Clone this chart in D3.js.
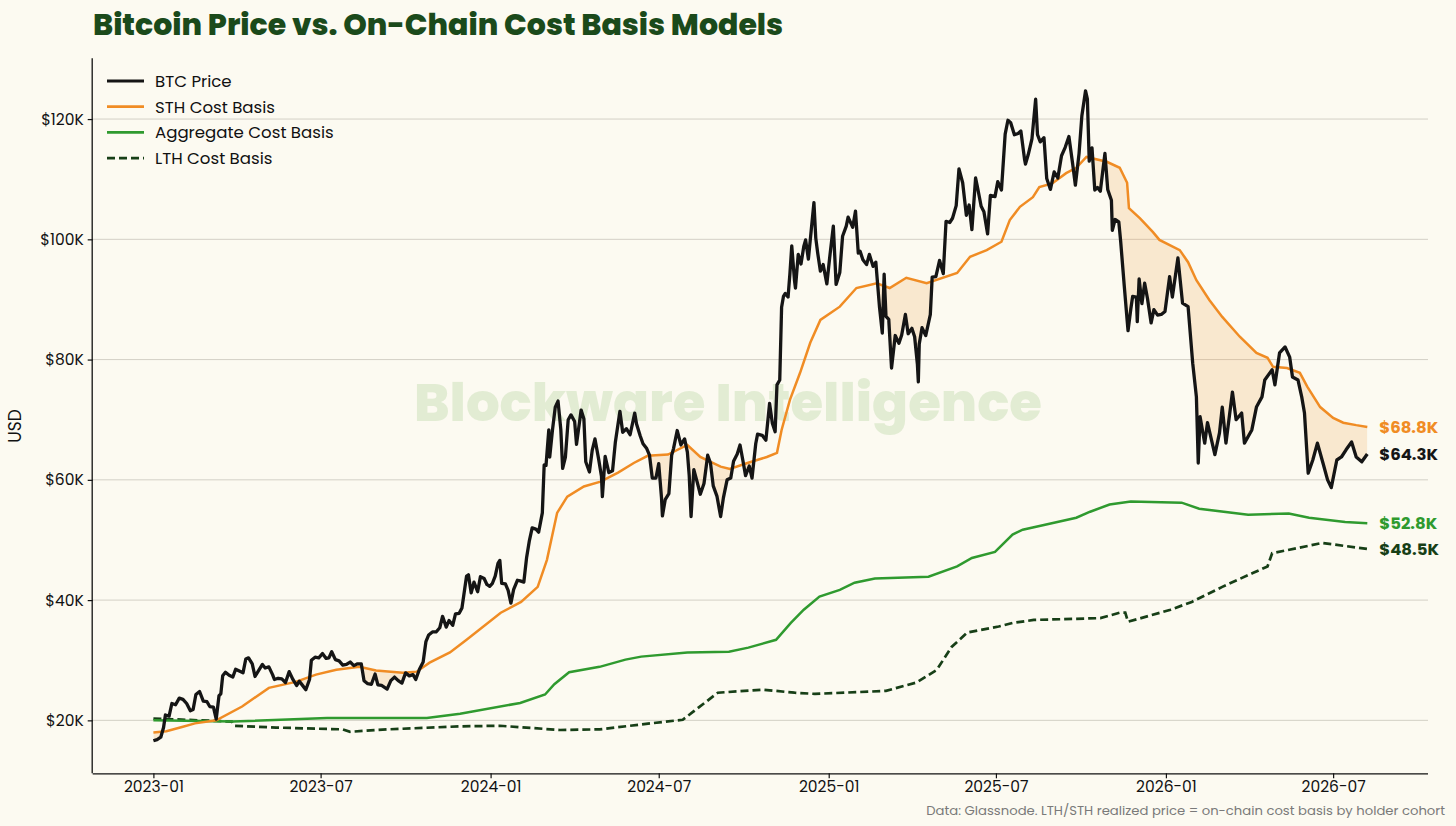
<!DOCTYPE html>
<html>
<head>
<meta charset="utf-8">
<script src="https://cdn.jsdelivr.net/npm/d3@7"></script>
<style>
  html, body { margin: 0; padding: 0; background: #fcfaf1; }
  svg { display: block; font-family: Poppins, Inter, "Noto Sans", sans-serif; }
</style>
</head>
<body>
<svg id="chart" width="1456" height="826"></svg>
<script>
// BTC spot price, $K
const btcPrice = [
  ["2023-01-01",16.6],["2023-01-05",16.8],["2023-01-09",17.2],["2023-01-12",18.8],["2023-01-14",20.9],["2023-01-18",20.7],
  ["2023-01-21",22.8],["2023-01-25",22.6],["2023-01-29",23.7],["2023-02-02",23.5],["2023-02-06",22.8],["2023-02-10",21.6],
  ["2023-02-13",21.8],["2023-02-16",24.3],["2023-02-20",24.8],["2023-02-24",23.2],["2023-02-28",23.1],["2023-03-03",22.3],
  ["2023-03-07",22.2],["2023-03-10",20.2],["2023-03-13",24.1],["2023-03-15",24.4],["2023-03-17",27.4],["2023-03-20",28.0],
  ["2023-03-24",27.5],["2023-03-28",27.2],["2023-03-31",28.5],["2023-04-04",28.2],["2023-04-08",27.9],["2023-04-11",30.2],
  ["2023-04-14",30.4],["2023-04-18",29.4],["2023-04-21",27.3],["2023-04-25",28.3],["2023-04-29",29.3],["2023-05-02",28.7],
  ["2023-05-06",28.9],["2023-05-10",27.6],["2023-05-12",26.8],["2023-05-16",27.0],["2023-05-20",26.9],["2023-05-24",26.3],
  ["2023-05-28",28.1],["2023-06-01",26.8],["2023-06-05",25.8],["2023-06-08",26.5],["2023-06-11",25.9],["2023-06-15",25.1],
  ["2023-06-19",26.8],["2023-06-21",30.0],["2023-06-25",30.5],["2023-06-29",30.4],["2023-07-03",31.1],["2023-07-07",30.3],
  ["2023-07-10",30.4],["2023-07-13",31.4],["2023-07-17",30.1],["2023-07-21",29.9],["2023-07-25",29.2],["2023-07-29",29.3],
  ["2023-08-02",29.7],["2023-08-06",29.1],["2023-08-10",29.4],["2023-08-14",29.4],["2023-08-17",26.6],["2023-08-21",26.1],
  ["2023-08-25",26.0],["2023-08-29",27.7],["2023-09-01",25.9],["2023-09-05",25.8],["2023-09-11",25.2],["2023-09-15",26.6],
  ["2023-09-19",27.2],["2023-09-23",26.6],["2023-09-27",26.2],["2023-10-01",27.9],["2023-10-05",27.4],["2023-10-09",27.6],
  ["2023-10-12",26.8],["2023-10-16",28.5],["2023-10-20",29.7],["2023-10-23",33.1],["2023-10-26",34.2],["2023-10-30",34.7],
  ["2023-11-03",34.7],["2023-11-07",35.4],["2023-11-10",37.3],["2023-11-14",35.5],["2023-11-17",36.6],["2023-11-21",35.8],
  ["2023-11-24",37.7],["2023-11-28",37.8],["2023-12-01",38.7],["2023-12-04",41.9],["2023-12-06",44.0],["2023-12-08",44.2],
  ["2023-12-11",41.2],["2023-12-14",43.0],["2023-12-18",41.4],["2023-12-21",43.9],["2023-12-25",43.6],["2023-12-28",42.6],
  ["2023-12-31",42.3],["2024-01-03",42.8],["2024-01-06",44.0],["2024-01-09",46.1],["2024-01-11",46.6],["2024-01-13",42.8],
  ["2024-01-17",42.7],["2024-01-20",41.6],["2024-01-23",39.5],["2024-01-26",41.8],["2024-01-30",43.3],["2024-02-02",43.2],
  ["2024-02-06",43.0],["2024-02-09",47.1],["2024-02-12",49.9],["2024-02-15",52.0],["2024-02-19",51.8],["2024-02-22",51.3],
  ["2024-02-26",54.5],["2024-02-28",62.5],["2024-03-01",62.4],["2024-03-04",68.3],["2024-03-05",63.8],["2024-03-08",68.3],
  ["2024-03-11",72.1],["2024-03-14",73.1],["2024-03-17",68.4],["2024-03-19",61.9],["2024-03-22",63.8],["2024-03-25",70.0],
  ["2024-03-28",70.8],["2024-04-01",69.7],["2024-04-03",65.9],["2024-04-08",71.6],["2024-04-11",70.1],["2024-04-13",63.0],
  ["2024-04-17",61.3],["2024-04-20",64.9],["2024-04-23",66.8],["2024-04-27",63.4],["2024-04-30",60.6],["2024-05-01",57.2],
  ["2024-05-04",63.9],["2024-05-08",61.2],["2024-05-12",61.5],["2024-05-15",66.2],["2024-05-20",71.4],["2024-05-23",67.9],
  ["2024-05-27",68.5],["2024-05-31",67.5],["2024-06-05",71.1],["2024-06-07",69.3],["2024-06-11",67.3],["2024-06-14",66.0],
  ["2024-06-18",65.2],["2024-06-21",64.1],["2024-06-24",60.3],["2024-06-28",60.3],["2024-07-01",62.7],["2024-07-04",57.0],
  ["2024-07-05",54.0],["2024-07-08",56.7],["2024-07-12",57.7],["2024-07-15",64.1],["2024-07-17",65.2],["2024-07-21",68.2],
  ["2024-07-25",65.8],["2024-07-29",66.8],["2024-08-01",64.6],["2024-08-03",60.7],["2024-08-05",53.9],["2024-08-08",61.7],
  ["2024-08-12",59.4],["2024-08-15",57.6],["2024-08-19",59.4],["2024-08-23",64.1],["2024-08-26",62.8],["2024-08-29",59.0],
  ["2024-09-02",57.3],["2024-09-06",53.9],["2024-09-09",57.0],["2024-09-13",60.0],["2024-09-17",60.3],["2024-09-20",63.1],
  ["2024-09-24",64.3],["2024-09-27",65.8],["2024-09-30",63.3],["2024-10-03",60.7],["2024-10-07",62.3],["2024-10-10",60.3],
  ["2024-10-14",66.0],["2024-10-16",67.6],["2024-10-21",67.4],["2024-10-25",66.6],["2024-10-29",72.7],["2024-11-01",69.4],
  ["2024-11-04",68.0],["2024-11-06",75.8],["2024-11-09",76.6],["2024-11-11",88.7],["2024-11-13",90.5],["2024-11-15",91.0],
  ["2024-11-18",90.4],["2024-11-20",94.3],["2024-11-22",98.9],["2024-11-25",93.1],["2024-11-26",91.9],["2024-11-29",97.5],
  ["2024-12-02",95.9],["2024-12-05",98.8],["2024-12-07",99.9],["2024-12-10",96.7],["2024-12-13",101.4],["2024-12-16",106.1],
  ["2024-12-18",100.2],["2024-12-20",97.8],["2024-12-23",94.7],["2024-12-26",95.8],["2024-12-30",92.6],["2025-01-02",96.9],
  ["2025-01-06",102.2],["2025-01-09",92.5],["2025-01-13",94.5],["2025-01-16",100.5],["2025-01-20",102.2],["2025-01-22",103.7],
  ["2025-01-27",102.0],["2025-01-30",104.7],["2025-02-02",97.7],["2025-02-04",98.0],["2025-02-07",96.6],["2025-02-11",95.8],
  ["2025-02-14",97.5],["2025-02-18",95.5],["2025-02-21",96.2],["2025-02-25",88.7],["2025-02-28",84.4],["2025-03-02",94.2],
  ["2025-03-04",87.2],["2025-03-07",86.7],["2025-03-10",78.6],["2025-03-14",84.0],["2025-03-18",82.7],["2025-03-21",84.1],
  ["2025-03-25",87.5],["2025-03-28",84.3],["2025-04-01",85.2],["2025-04-04",83.8],["2025-04-07",79.2],["2025-04-08",76.3],
  ["2025-04-09",82.6],["2025-04-12",85.3],["2025-04-16",84.0],["2025-04-21",87.5],["2025-04-23",93.7],["2025-04-27",93.8],
  ["2025-05-01",96.5],["2025-05-05",94.3],["2025-05-08",103.0],["2025-05-12",102.8],["2025-05-15",103.5],["2025-05-19",105.6],
  ["2025-05-22",111.7],["2025-05-26",109.4],["2025-05-30",104.0],["2025-06-02",105.7],["2025-06-05",101.6],["2025-06-09",110.2],
  ["2025-06-11",108.7],["2025-06-15",105.5],["2025-06-18",104.6],["2025-06-22",100.9],["2025-06-25",107.3],["2025-06-30",107.1],
  ["2025-07-03",109.6],["2025-07-07",108.2],["2025-07-11",117.5],["2025-07-14",119.8],["2025-07-17",119.4],["2025-07-21",117.4],
  ["2025-07-25",117.6],["2025-07-28",118.0],["2025-08-01",113.3],["2025-08-02",112.5],["2025-08-05",114.1],["2025-08-09",116.7],
  ["2025-08-13",123.3],["2025-08-15",117.4],["2025-08-18",116.2],["2025-08-22",116.9],["2025-08-25",110.1],["2025-08-29",108.3],
  ["2025-09-02",111.2],["2025-09-06",110.2],["2025-09-10",113.9],["2025-09-14",115.3],["2025-09-18",117.1],["2025-09-22",112.6],
  ["2025-09-25",109.0],["2025-09-29",114.3],["2025-10-02",120.5],["2025-10-06",124.7],["2025-10-08",123.3],["2025-10-10",113.0],
  ["2025-10-13",115.2],["2025-10-16",108.2],["2025-10-19",108.6],["2025-10-22",108.0],["2025-10-27",114.3],["2025-10-30",108.3],
  ["2025-11-03",106.5],["2025-11-04",101.5],["2025-11-07",103.3],["2025-11-11",102.9],["2025-11-13",99.7],["2025-11-17",92.1],
  ["2025-11-20",86.6],["2025-11-21",84.8],["2025-11-24",88.4],["2025-11-26",90.5],["2025-11-30",90.4],["2025-12-01",86.3],
  ["2025-12-03",93.4],["2025-12-06",89.3],["2025-12-09",92.7],["2025-12-12",90.2],["2025-12-16",86.1],["2025-12-19",88.3],
  ["2025-12-23",87.4],["2025-12-27",87.5],["2025-12-31",88.0],["2026-01-05",93.8],["2026-01-08",90.4],["2026-01-14",96.9],
  ["2026-01-19",89.4],["2026-01-25",88.8],["2026-01-30",79.4],["2026-02-03",73.8],["2026-02-05",62.8],["2026-02-07",70.5],
  ["2026-02-12",66.1],["2026-02-15",69.5],["2026-02-23",64.2],["2026-02-28",67.8],["2026-03-03",72.1],["2026-03-07",66.1],
  ["2026-03-14",74.6],["2026-03-18",70.0],["2026-03-24",71.1],["2026-03-27",66.1],["2026-04-04",68.3],["2026-04-09",72.1],
  ["2026-04-15",73.8],["2026-04-18",76.6],["2026-04-26",78.3],["2026-04-29",75.8],["2026-05-04",81.1],["2026-05-10",82.1],
  ["2026-05-15",80.4],["2026-05-18",77.1],["2026-05-24",76.6],["2026-05-28",73.8],["2026-05-31",71.1],["2026-06-04",61.1],
  ["2026-06-09",63.3],["2026-06-14",66.1],["2026-06-20",62.8],["2026-06-25",60.0],["2026-06-29",58.7],["2026-07-05",63.3],
  ["2026-07-10",63.8],["2026-07-15",65.0],["2026-07-21",66.3],["2026-07-26",63.8],["2026-08-01",63.0],["2026-08-07",64.3]
];

// short-term holder realized price, $K
const sthCostBasis = [
  ["2023-01-01",18.0],["2023-01-15",18.2],["2023-02-01",18.9],["2023-02-15",19.5],["2023-03-10",20.0],["2023-04-07",22.3],
  ["2023-05-06",25.4],["2023-06-04",26.4],["2023-06-26",27.6],["2023-07-18",28.4],["2023-08-12",28.9],["2023-08-30",28.3],
  ["2023-09-28",27.9],["2023-10-13",28.1],["2023-10-27",29.6],["2023-11-18",31.3],["2023-12-06",33.4],["2024-01-12",37.9],
  ["2024-02-03",39.7],["2024-02-21",42.2],["2024-03-02",46.7],["2024-03-13",54.5],["2024-03-24",57.2],["2024-04-11",58.9],
  ["2024-04-29",59.7],["2024-05-18",61.2],["2024-06-04",62.8],["2024-06-19",64.0],["2024-07-11",64.2],["2024-08-01",65.8],
  ["2024-08-15",63.8],["2024-09-06",62.2],["2024-09-16",61.8],["2024-10-05",62.8],["2024-10-26",63.8],["2024-11-06",64.5],
  ["2024-11-11",68.3],["2024-11-20",73.3],["2024-12-01",77.8],["2024-12-12",82.8],["2024-12-23",86.6],["2025-01-13",88.8],
  ["2025-01-31",91.9],["2025-02-22",92.7],["2025-03-08",91.9],["2025-03-26",93.6],["2025-04-17",92.7],["2025-05-20",94.4],
  ["2025-06-03",97.1],["2025-06-21",98.2],["2025-07-07",99.6],["2025-07-16",103.2],["2025-07-27",105.4],["2025-08-10",107.0],
  ["2025-08-17",108.7],["2025-08-31",109.3],["2025-09-15",111.0],["2025-09-26",111.9],["2025-10-07",113.7],["2025-10-29",112.9],
  ["2025-11-12",111.9],["2025-11-20",109.4],["2025-11-22",105.2],["2025-12-04",103.5],["2025-12-18",101.2],["2025-12-25",99.9],
  ["2026-01-16",98.2],["2026-01-25",96.2],["2026-02-03",93.2],["2026-02-17",89.9],["2026-03-03",87.1],["2026-03-22",83.8],
  ["2026-04-09",81.1],["2026-04-21",80.3],["2026-04-27",78.8],["2026-05-12",78.6],["2026-05-26",77.8],["2026-06-03",75.5],
  ["2026-06-17",72.1],["2026-07-01",70.3],["2026-07-12",69.5],["2026-07-26",69.1],["2026-08-07",68.8]
];

// aggregate realized price, $K
const aggCostBasis = [
  ["2023-01-01",20.0],["2023-03-28",19.8],["2023-07-08",20.4],["2023-10-24",20.4],["2023-11-29",21.1],["2024-02-02",22.9],
  ["2024-02-29",24.3],["2024-03-10",26.0],["2024-03-26",28.0],["2024-04-28",28.9],["2024-05-26",30.1],["2024-06-12",30.6],
  ["2024-08-01",31.3],["2024-09-15",31.4],["2024-10-06",32.1],["2024-11-05",33.4],["2024-11-21",36.2],["2024-12-05",38.4],
  ["2024-12-22",40.6],["2025-01-13",41.7],["2025-01-29",42.9],["2025-02-20",43.6],["2025-04-19",43.9],["2025-05-20",45.6],
  ["2025-06-05",47.0],["2025-06-30",48.0],["2025-07-19",50.9],["2025-07-30",51.7],["2025-08-22",52.5],["2025-09-26",53.7],
  ["2025-10-11",54.7],["2025-11-01",55.9],["2025-11-24",56.4],["2026-01-18",56.2],["2026-02-06",55.2],["2026-03-31",54.2],
  ["2026-05-14",54.4],["2026-06-05",53.7],["2026-07-14",53.0],["2026-08-07",52.8]
];

// long-term holder realized price, $K
const lthCostBasis = [
  ["2023-01-01",20.3],["2023-03-10",19.9],["2023-03-27",19.8],["2023-03-30",19.1],["2023-05-14",18.8],["2023-07-25",18.5],
  ["2023-08-02",18.1],["2023-09-11",18.5],["2023-11-29",19.0],["2024-01-11",19.1],["2024-03-16",18.4],["2024-04-28",18.5],
  ["2024-06-11",19.3],["2024-07-27",20.1],["2024-08-07",21.4],["2024-09-03",24.6],["2024-10-22",25.1],["2024-11-25",24.6],
  ["2024-12-17",24.4],["2025-03-04",24.9],["2025-04-06",26.3],["2025-04-28",28.4],["2025-05-14",32.2],["2025-05-31",34.6],
  ["2025-07-04",35.6],["2025-07-19",36.2],["2025-08-11",36.7],["2025-10-22",37.0],["2025-11-12",37.9],["2025-11-18",37.9],
  ["2025-11-21",36.4],["2025-12-05",37.0],["2026-01-06",38.4],["2026-01-29",39.7],["2026-03-03",42.2],["2026-04-05",44.5],
  ["2026-04-21",45.6],["2026-04-26",47.8],["2026-05-25",48.7],["2026-06-19",49.5],["2026-07-14",49.0],["2026-08-07",48.5]
];

const yTicks = [20, 40, 60, 80, 100, 120];
const legendLabels = ["BTC Price", "STH Cost Basis", "Aggregate Cost Basis", "LTH Cost Basis"];

const parse = d3.utcParse("%Y-%m-%d");
const toRows = arr => arr.map(d => ({ date: parse(d[0]), v: d[1] }));
const btc = toRows(btcPrice);
const sth = toRows(sthCostBasis);
const agg = toRows(aggCostBasis);
const lth = toRows(lthCostBasis);

const margin = { left: 92.7, right: 1428, top: 58.3, bottom: 773.3 };
const svg = d3.select('#chart');

svg.append('rect').attr('width', 1456).attr('height', 826).attr('fill', '#fcfaf1');

// 5% padding on both axes, like the original
const [t0, t1] = d3.extent(btc, d => d.date);
const pad = (t1 - t0) * 0.05;
const xScale = d3.scaleUtc()
  .domain([new Date(+t0 - pad), new Date(+t1 + pad)])
  .range([margin.left, margin.right]);

const allVals = [btc, sth, agg, lth].flat().map(d => d.v);
const vMin = d3.min(allVals), vMax = d3.max(allVals);
const vPad = (vMax - vMin) * 0.05;
const yScale = d3.scaleLinear()
  .domain([vMin - vPad, vMax + vPad])
  .range([margin.bottom, margin.top]);

// gridlines
svg.append('g')
  .selectAll('line')
  .data(yTicks)
  .enter()
  .append('line')
  .attr('x1', margin.left)
  .attr('x2', margin.right)
  .attr('y1', d => yScale(d))
  .attr('y2', d => yScale(d))
  .attr('stroke', '#d3d0c6')
  .attr('stroke-width', 1);

// watermark
svg.append('text')
  .attr('x', 728)
  .attr('y', 421)
  .attr('text-anchor', 'middle')
  .attr('font-size', 53)
  .attr('font-weight', 800)
  .attr('fill', '#e2ecd3')
  .text('Blockware Intelligence');

const line = d3.line().x(d => xScale(d.date)).y(d => yScale(d.v));

// shade where price sits below the STH cost basis
svg.append('defs')
  .append('clipPath')
  .attr('id', 'above-btc')
  .append('path')
  .attr('d', d3.area().x(d => xScale(d.date)).y0(margin.top).y1(d => yScale(d.v))(btc));

svg.append('path')
  .attr('clip-path', 'url(#above-btc)')
  .attr('d', d3.area().x(d => xScale(d.date)).y0(margin.bottom).y1(d => yScale(d.v))(sth))
  .attr('fill', 'rgba(240, 140, 40, 0.17)');

svg.append('path')
  .attr('d', line(lth))
  .attr('fill', 'none')
  .attr('stroke', '#173f17')
  .attr('stroke-width', 2.7)
  .attr('stroke-dasharray', '8,4');

svg.append('path')
  .attr('d', line(agg))
  .attr('fill', 'none')
  .attr('stroke', '#2f9a2f')
  .attr('stroke-width', 2.5);

svg.append('path')
  .attr('d', line(sth))
  .attr('fill', 'none')
  .attr('stroke', '#f08c24')
  .attr('stroke-width', 2.5);

svg.append('path')
  .attr('d', line(btc))
  .attr('fill', 'none')
  .attr('stroke', '#151515')
  .attr('stroke-width', 3.3)
  .attr('stroke-linejoin', 'round');

// axes
const yAxis = d3.axisLeft(yScale).tickValues(yTicks).tickSize(5).tickPadding(4).tickFormat(d => `$${d}K`);
const gy = svg.append('g')
  .attr('transform', `translate(${margin.left}, 0)`)
  .call(yAxis);
gy.select('.domain').attr('d', `M-0.5,${margin.top}V${margin.bottom}`).attr('stroke', '#111').attr('stroke-width', 1.3);

const xAxis = d3.axisBottom(xScale).ticks(d3.utcMonth.every(6)).tickSize(5).tickPadding(3).tickFormat(d3.utcFormat('%Y-%m'));
const gx = svg.append('g')
  .attr('transform', `translate(0, ${margin.bottom})`)
  .call(xAxis);
gx.select('.domain').attr('d', `M${margin.left},0.5H${margin.right}`).attr('stroke', '#111').attr('stroke-width', 1.3);

[gx, gy].forEach(g => {
  g.selectAll('.tick line').attr('stroke', '#111').attr('stroke-width', 1.2);
  g.selectAll('.tick text').attr('font-size', 15.5).attr('fill', '#111').attr('font-family', 'Poppins, Inter, sans-serif');
});

svg.append('text')
  .attr('transform', 'translate(21, 426) rotate(-90)')
  .attr('text-anchor', 'middle')
  .attr('font-size', 17)
  .attr('fill', '#111')
  .text('USD');

// title
svg.append('text')
  .attr('x', 93)
  .attr('y', 35)
  .attr('font-size', 30)
  .attr('font-weight', 800)
  .attr('fill', '#1b4a1b')
  .text('Bitcoin Price vs. On-Chain Cost Basis Models');

// legend
const legendStyles = [
  { color: '#151515', width: 3.2, dash: null },
  { color: '#f08c24', width: 2.7, dash: null },
  { color: '#2f9a2f', width: 2.7, dash: null },
  { color: '#173f17', width: 2.7, dash: '8,4' }
];
const legend = svg.append('g');
legendLabels.forEach((label, i) => {
  const yy = 81 + i * 25.7;
  legend.append('line')
    .attr('x1', 107).attr('x2', 144)
    .attr('y1', yy).attr('y2', yy)
    .attr('stroke', legendStyles[i].color)
    .attr('stroke-width', legendStyles[i].width)
    .attr('stroke-dasharray', legendStyles[i].dash);
  legend.append('text')
    .attr('x', 155)
    .attr('y', yy)
    .attr('dy', '0.35em')
    .attr('font-size', 16.6)
    .attr('fill', '#111')
    .text(label);
});

// end-of-line value labels
const endLabels = [
  { rows: sth, color: '#f08c24' },
  { rows: btc, color: '#151515' },
  { rows: agg, color: '#2f9a2f' },
  { rows: lth, color: '#173f17' }
];
endLabels.forEach(e => {
  const last = e.rows[e.rows.length - 1];
  svg.append('text')
    .attr('x', xScale(last.date) + 12)
    .attr('y', yScale(last.v))
    .attr('dy', '0.35em')
    .attr('font-size', 16.5)
    .attr('font-weight', 700)
    .attr('fill', e.color)
    .text(`$${last.v.toFixed(1)}K`);
});

svg.append('text')
  .attr('x', 1445)
  .attr('y', 810)
  .attr('dy', '0.35em')
  .attr('text-anchor', 'end')
  .attr('font-size', 13.2)
  .attr('fill', '#7a7a7a')
  .text('Data: Glassnode. LTH/STH realized price = on-chain cost basis by holder cohort');
</script>
</body>
</html>
